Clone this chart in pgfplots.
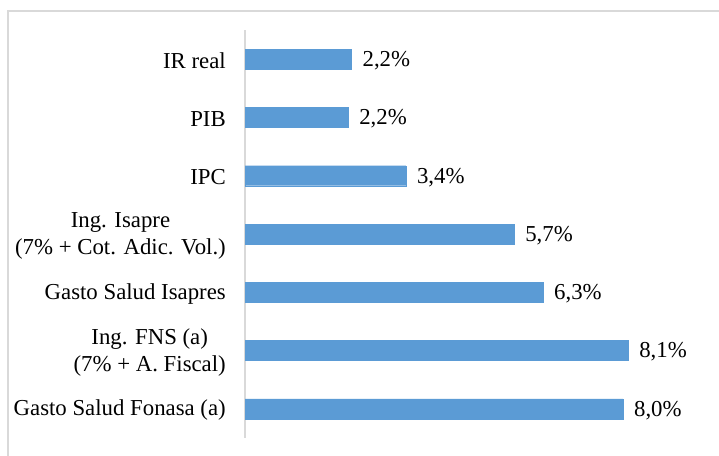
\documentclass[border=0pt]{standalone}
\usepackage{fontspec}
\setmainfont{Liberation Serif}
\usepackage{pgfplots}
\pgfplotsset{compat=1.18}
\definecolor{barblue}{HTML}{5B9BD5}
\definecolor{framegray}{HTML}{D9D9D9}

\begin{document}
\begin{tikzpicture}
  \clip (0pt,0pt) rectangle (719pt,455pt);
  \fill[white] (0pt,0pt) rectangle (719pt,455pt);
  % chart frame, cut off on the right and bottom
  \draw[framegray, line width=1.2pt] (8pt,-20pt) -- (8pt,444pt) -- (740pt,444pt);

  \begin{axis}[
    at={(245pt,17pt)}, anchor=south west,
    scale only axis,
    width=473pt, height=408pt,
    xmin=0, xmax=10,
    ymin=0.5, ymax=7.5,
    y dir=reverse,
    xbar, bar width=20pt,
    hide x axis,
    axis y line*=left,
    y axis line style={draw=framegray, line width=1.3pt},
    ytick={1,...,7},
    major tick length=0pt,
    yticklabels={
      IR real,
      PIB,
      IPC,
      {Ing. Isapre\\(7\% + Cot. Adic. Vol.)},
      Gasto Salud Isapres,
      {Ing. FNS (a)\\(7\% + A. Fiscal)},
      Gasto Salud Fonasa (a)
    },
    yticklabel style={align=center, anchor=east, inner sep=0pt, xshift=-19pt,
      yshift=-1.5pt, font=\fontsize{22.8}{27}\selectfont},
    point meta=explicit symbolic,
    nodes near coords,
    every node near coord/.append style={anchor=west, inner sep=0pt, xshift=11pt,
      yshift=-1.5pt, font=\fontsize{22.8}{27}\selectfont, text=black},
  ]
  \addplot[fill=barblue, draw=barblue] table[x=x, y=y, meta=lab] {
    x     y   lab
    2.25  1   2,2\%
    2.18  2   2,2\%
    3.40  3   3,4\%
    5.69  4   5,7\%
    6.30  5   6,3\%
    8.10  6   8,1\%
    7.99  7   8,0\%
  };
  \end{axis}
\end{tikzpicture}
\end{document}
